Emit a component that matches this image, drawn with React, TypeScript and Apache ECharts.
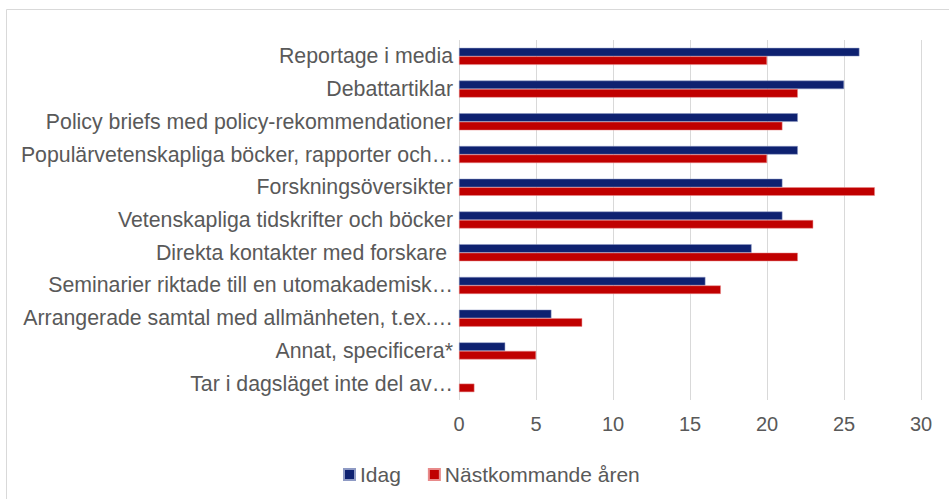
import React, { useEffect, useRef } from "react";
import * as echarts from "echarts";

const categories = [
  "Reportage i media",
  "Debattartiklar",
  "Policy briefs med policy-rekommendationer",
  "Populärvetenskapliga böcker, rapporter och…",
  "Forskningsöversikter",
  "Vetenskapliga tidskrifter och böcker",
  "Direkta kontakter med forskare ",
  "Seminarier riktade till en utomakademisk…",
  "Arrangerade samtal med allmänheten, t.ex.…",
  "Annat, specificera*",
  "Tar i dagsläget inte del av…",
];
const idag = [26, 25, 22, 22, 21, 21, 19, 16, 6, 3, 0];
const nastkommande = [20, 22, 21, 20, 27, 23, 22, 17, 8, 5, 1];
const seriesNames = ["Idag", "Nästkommande åren"];

const withNoZeroBorder = (arr: number[]) =>
  arr.map((v) => (v === 0 ? { value: v, itemStyle: { borderWidth: 0, opacity: 0 } } : v));

export default function App() {
  const ref = useRef<HTMLDivElement>(null);
  useEffect(() => {
    if (!ref.current) return;
    const chart = echarts.init(ref.current, null, { renderer: "svg" });
    const font = "Liberation Sans, Arial, sans-serif";
    chart.setOption({
      animation: false,
      backgroundColor: "#ffffff",
      textStyle: { fontFamily: font },
      graphic: [
        {
          type: "rect",
          shape: { x: 6.5, y: 9.5, width: 1000, height: 600 },
          style: { fill: "none", stroke: "#d9d9d9", lineWidth: 1 },
          silent: true,
        },
      ],
      grid: { left: 459, right: 28, top: 40, bottom: 99, containLabel: false },
      legend: {
        data: seriesNames,
        bottom: 14,
        left: 343,
        padding: 0,
        itemWidth: 11,
        itemHeight: 11,
        itemGap: 27,
        icon: "rect",
        textStyle: { fontSize: 21, color: "#595959", fontFamily: font },
      },
      xAxis: {
        type: "value",
        min: 0,
        max: 30,
        interval: 5,
        axisLine: { show: false },
        axisTick: { show: false },
        axisLabel: { fontSize: 20, color: "#595959", margin: 14, fontFamily: font },
        splitLine: { show: true, lineStyle: { color: "#d9d9d9", width: 1 } },
      },
      yAxis: {
        type: "category",
        data: categories,
        inverse: true,
        axisLine: { show: false },
        axisTick: { show: false },
        axisLabel: { fontSize: 21.3, color: "#595959", margin: 6, fontFamily: font },
        splitLine: { show: false },
      },
      series: [
        {
          name: seriesNames[0],
          type: "bar",
          data: withNoZeroBorder(idag),
          barWidth: 8.5,
          barGap: "0%",
          itemStyle: { color: "#0e2170", borderColor: "#8e9ac4", borderWidth: 0.5 },
        },
        {
          name: seriesNames[1],
          type: "bar",
          data: withNoZeroBorder(nastkommande),
          barWidth: 8.5,
          barGap: "0%",
          itemStyle: { color: "#c00000", borderColor: "#e88a8a", borderWidth: 0.5 },
        },
      ],
    });
    return () => chart.dispose();
  }, []);
  return (
    <div
      ref={ref}
      style={{ position: "fixed", left: 0, top: 0, width: 949, height: 499 }}
    />
  );
}
